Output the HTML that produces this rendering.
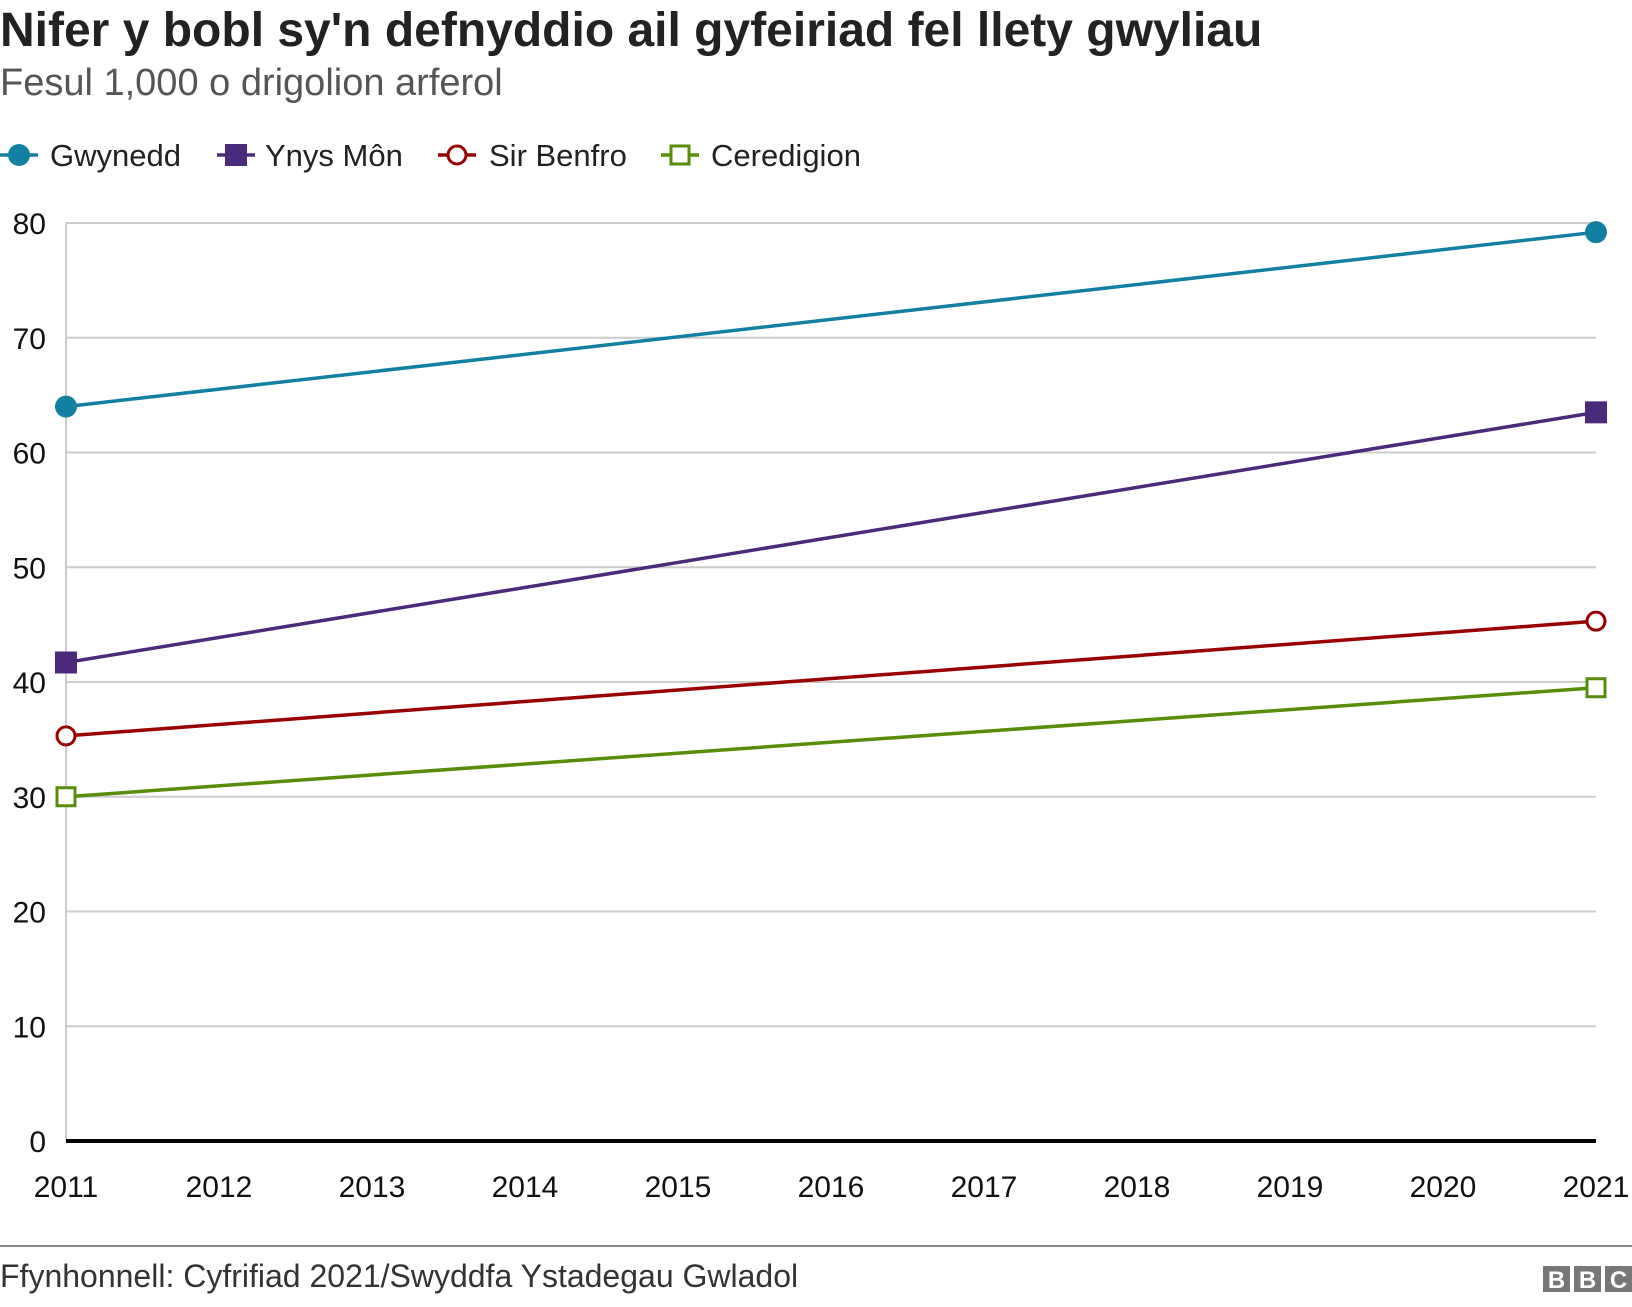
<!DOCTYPE html>
<html><head><meta charset="utf-8"><style>
body{margin:0;background:#fff;font-family:"Liberation Sans",Arial,sans-serif;}
svg text{font-family:"Liberation Sans",Arial,sans-serif;}
</style></head><body>
<svg id="chart" width="1632" height="1302" viewBox="0 0 1632 1302" xmlns="http://www.w3.org/2000/svg">
<text x="0" y="46" font-size="48" font-weight="bold" fill="#222">Nifer y bobl sy'n defnyddio ail gyfeiriad fel llety gwyliau</text>
<text x="0" y="95" font-size="38" fill="#555">Fesul 1,000 o drigolion arferol</text>
<g id="legend"></g>
<g id="grid"></g>
<g id="series"></g>
<line x1="0" y1="1246" x2="1632" y2="1246" stroke="#888" stroke-width="2"/>
<text x="0" y="1287" font-size="32" fill="#333">Ffynhonnell: Cyfrifiad 2021/Swyddfa Ystadegau Gwladol</text>
<g>
<rect x="1543" y="1266" width="27" height="26" fill="#777"/><rect x="1574" y="1266" width="27" height="26" fill="#777"/><rect x="1605" y="1266" width="27" height="26" fill="#777"/>
<text x="1556.5" y="1288" font-size="24" font-weight="bold" fill="#fff" text-anchor="middle">B</text>
<text x="1587.5" y="1288" font-size="24" font-weight="bold" fill="#fff" text-anchor="middle">B</text>
<text x="1618.5" y="1288" font-size="24" font-weight="bold" fill="#fff" text-anchor="middle">C</text>
</g>
</svg>
<script>
const years = [2011, 2021];
const yTicks = [0, 10, 20, 30, 40, 50, 60, 70, 80];
const xTicks = [2011, 2012, 2013, 2014, 2015, 2016, 2017, 2018, 2019, 2020, 2021];
const seriesNames = ["Gwynedd", "Ynys Môn", "Sir Benfro", "Ceredigion"];
const gwynedd = [64.0, 79.2];
const ynysMon = [41.7, 63.5];
const sirBenfro = [35.3, 45.3];
const ceredigion = [30.0, 39.5];

const NS = "http://www.w3.org/2000/svg";
const X0 = 66, X1 = 1596, Y0 = 1141, Y80 = 223;
const xs = v => X0 + (v - 2011) / 10 * (X1 - X0);
const ys = v => Y0 - v / 80 * (Y0 - Y80);
function mk(tag, attrs, parent){const e=document.createElementNS(NS,tag);for(const k in attrs)e.setAttribute(k,attrs[k]);parent.appendChild(e);return e;}

const grid = document.getElementById('grid');
mk('line',{x1:X0,y1:Y80,x2:X0,y2:Y0,stroke:'#ccc','stroke-width':2},grid);
yTicks.forEach(t=>{
  if(t>0){const l=mk('line',{x1:X0,y1:ys(t),x2:X1,y2:ys(t),stroke:'#ccc','stroke-width':2},grid);
  
  }
  const tx=mk('text',{x:46,y:ys(t)+11,'font-size':30,fill:'#111','text-anchor':'end'},grid);
  tx.textContent=t;
  
  
});
const ax=mk('line',{x1:X0,y1:Y0,x2:X1,y2:Y0,stroke:'#000','stroke-width':4},grid);


xTicks.forEach(t=>{
  const tx=mk('text',{x:xs(t),y:1197,'font-size':30,fill:'#111','text-anchor':'middle'},grid);
  tx.textContent=t;
  
  
});

const cfg=[
 {d:gwynedd,c:'#1380a1',m:'circle',fill:true},
 {d:ynysMon,c:'#4b2a7b',m:'square',fill:true},
 {d:sirBenfro,c:'#990000',m:'circle',fill:false},
 {d:ceredigion,c:'#588c0b',m:'square',fill:false}];
const sg=document.getElementById('series');
function marker(g,m,x,y,c,fill,r){
  if(m==='circle') return mk('circle',{cx:x,cy:y,r:fill?r:r-2,fill:fill?c:'#fff',stroke:c,'stroke-width':fill?0:3},g);
  const s=fill?2*r:2*r-4;
  return mk('rect',{x:x-s/2,y:y-s/2,width:s,height:s,fill:fill?c:'#fff',stroke:c,'stroke-width':fill?0:3},g);
}
cfg.forEach((s,i)=>{
  const g=mk('g',{},sg);
  
  
  const pts=years.map((y,j)=>xs(y)+','+ys(s.d[j])).join(' ');
  mk('polyline',{points:pts,fill:'none',stroke:s.c,'stroke-width':3.5},g);
  years.forEach((y,j)=>{
    const p=marker(g,s.m,xs(y),ys(s.d[j]),s.c,s.fill,11);
    
    
  });
});

const lg=document.getElementById('legend');
const lx=[[19,50],[236,265],[457,489],[680,711]];
cfg.forEach((s,i)=>{
  const g=mk('g',{},lg);
  
  
  mk('line',{x1:lx[i][0]-19,y1:155,x2:lx[i][0]+19,y2:155,stroke:s.c,'stroke-width':3.5},g);
  marker(g,s.m,lx[i][0],155,s.c,s.fill,11);
  const t=mk('text',{x:lx[i][1],y:166,'font-size':31,fill:'#222'},g);
  t.textContent=seriesNames[i];
});
</script>
</body></html>
